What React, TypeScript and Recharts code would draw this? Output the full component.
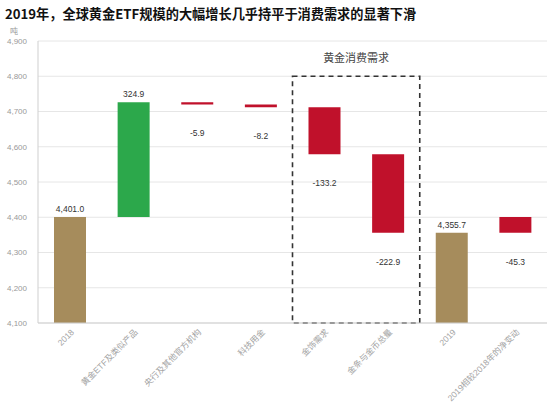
import React from 'react';
import { BarChart, Bar, XAxis, YAxis, CartesianGrid, Cell, LabelList, ReferenceArea, Label } from 'recharts';

const categories = ['2018', '黄金ETF及类似产品', '央行及其他官方机构', '科技用金', '金饰需求', '金条与金币总量', '2019', '2019相较2018年的净变动'];
const lows = [4100, 4401.0, 4720.0, 4711.8, 4578.6, 4355.7, 4100, 4355.7];
const highs = [4401.0, 4725.9, 4725.9, 4720.0, 4711.8, 4578.6, 4355.7, 4401.0];
const kinds = ['total', 'up', 'down', 'down', 'down', 'down', 'total', 'down'];
const valueLabels = ['4,401.0', '324.9', '-5.9', '-8.2', '-133.2', '-222.9', '4,355.7', '-45.3'];
const yTicks = [4100, 4200, 4300, 4400, 4500, 4600, 4700, 4800, 4900];

const colors: Record<string, string> = { total: '#A68C5C', up: '#2CA84B', down: '#C0112B' };

const data = categories.map((c, i) => ({ name: c, range: [lows[i], highs[i]], kind: kinds[i] }));

const FONT = '"Liberation Sans", "Noto Sans CJK SC", sans-serif';

const XTick = (props: any) => {
  const { x, payload } = props;
  return (
    <g transform={`translate(${x + 3},${331})`}>
      <text transform="rotate(-45)" textAnchor="end" fontSize={8.5} fill="#a3a3a3" fontFamily={FONT} dy="0.3em">
        {payload.value}
      </text>
    </g>
  );
};

const ValueLabel = (props: any) => {
  const { x, y, width, height, index } = props;
  const top = Math.min(y, y + height);
  const bottom = Math.max(y, y + height);
  const kind = kinds[index];
  const cx = x + width / 2;
  const ty = kind === 'down' ? bottom + 32 : top - 5;
  return (
    <text x={cx} y={ty} textAnchor="middle" fontSize={8.5} fill="#333" fontFamily={FONT}>
      {valueLabels[index]}
    </text>
  );
};

export default function App() {
  return (
    <div style={{ position: 'absolute', left: 0, top: 0, width: 554, height: 403, background: '#fff', overflow: 'hidden' }}>
      <div style={{ position: 'absolute', left: 5, top: 4, fontSize: 13.2, fontWeight: 'bold', color: '#111', fontFamily: '"Noto Sans CJK SC", sans-serif', whiteSpace: 'nowrap', lineHeight: '20px' }}>
        2019年，全球黄金ETF规模的大幅增长几乎持平于消费需求的显著下滑
      </div>
      <div style={{ position: 'absolute', left: 10, top: 26, fontSize: 8, color: '#999', fontFamily: '"Noto Sans CJK SC", sans-serif', lineHeight: '10px' }}>
        吨
      </div>
      <BarChart width={554} height={403} data={data} margin={{ top: 41, right: 7, left: 0, bottom: 0 }} barCategoryGap="25%">
        <CartesianGrid vertical={false} stroke="#e6e6e6" />
        <XAxis dataKey="name" height={80} tick={<XTick />} tickLine={false} axisLine={{ stroke: '#cfcfcf' }} interval={0} />
        <YAxis
          width={38}
          domain={[4100, 4900]}
          ticks={yTicks}
          allowDataOverflow
          tickLine={false}
          tickMargin={5}
          axisLine={{ stroke: '#cfcfcf' }}
          tick={{ fontSize: 8, fill: '#999', fontFamily: FONT }}
          tickFormatter={(v: number) => v.toLocaleString('en-US')}
        />
        <ReferenceArea x1="金饰需求" x2="金条与金币总量" y1={4100} y2={4800} fill="none" fillOpacity={0} stroke="#333" strokeWidth={1.6} strokeDasharray="5 4" ifOverflow="visible">
          <Label value="黄金消费需求" position="top" offset={14} fontSize={11} fill="#444" fontFamily='"Noto Sans CJK SC", sans-serif' />
        </ReferenceArea>
        <Bar dataKey="range" barSize={32} isAnimationActive={false}>
          {data.map((d, i) => (
            <Cell key={i} fill={colors[d.kind]} />
          ))}
          <LabelList dataKey="range" content={<ValueLabel />} />
        </Bar>
      </BarChart>
    </div>
  );
}
